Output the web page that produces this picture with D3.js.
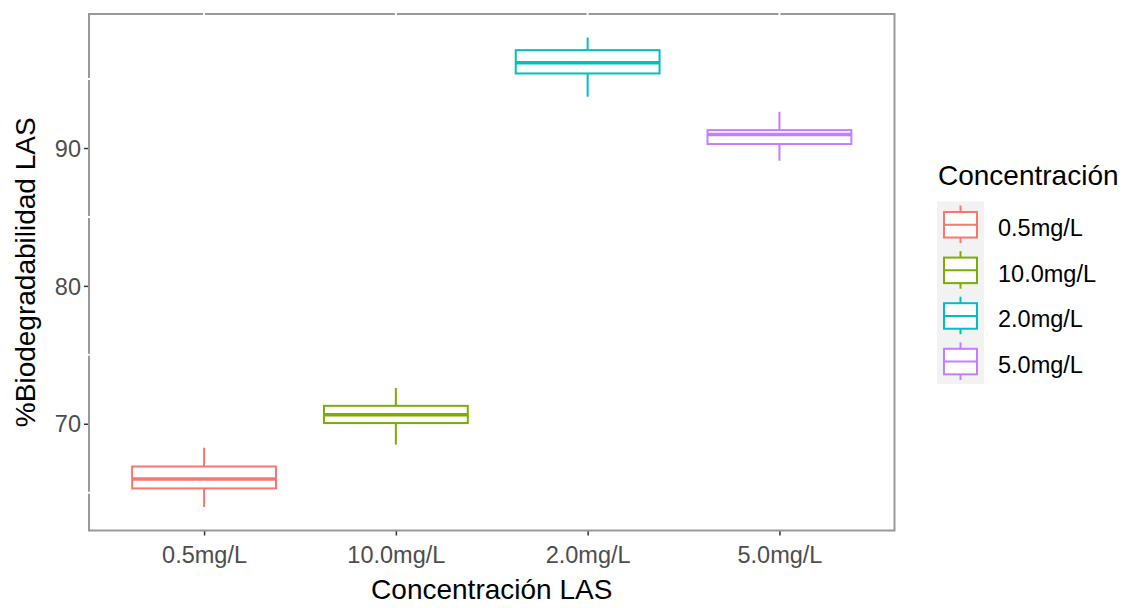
<!DOCTYPE html>
<html><head><meta charset="utf-8">
<script src="https://cdn.jsdelivr.net/npm/d3@7"></script>
<style>body{margin:0;background:#fff}svg{display:block;font-family:"Liberation Sans",Arial,sans-serif}</style>
</head><body><svg id="c" width="1133" height="608"></svg>
<script>
const categories = ["0.5mg/L","10.0mg/L","2.0mg/L","5.0mg/L"];
const colors = ["#F8766D","#7CAE00","#00BFC4","#C77CFF"];
const whiskerLow = [63.96, 68.48, 93.72, 89.08];
const q1 = [65.31, 70.05, 95.41, 90.29];
const median = [66.0, 70.65, 96.18, 90.99];
const q3 = [66.9, 71.30, 97.10, 91.30];
const whiskerHigh = [68.26, 72.59, 98.02, 92.63];
const yTicks = [70, 80, 90];
const yMinor = [65, 75, 85, 95];

const svg = d3.select("#c");
const L = 89, R = 894.5, T = 14, B = 530.5;
const lo = d3.min(whiskerLow), hi = d3.max(whiskerHigh), pad = (hi - lo) * 0.05;
const y = d3.scaleLinear().domain([lo - pad, hi + pad]).range([B, T]);
const x = d3.scalePoint().domain(categories).range([L, R]).padding(0.6);
const bw = x.step() * 0.75;

// axes
const gy = svg.append("g").attr("transform", `translate(${L},0)`)
  .call(d3.axisLeft(y).tickValues(yTicks).tickSize(5).tickPadding(3));
const gx = svg.append("g").attr("transform", `translate(0,${B})`)
  .call(d3.axisBottom(x).tickSize(5).tickPadding(6));
[gy, gx].forEach(g => {
  g.select(".domain").remove();
  g.selectAll(".tick line").attr("stroke", "#333").attr("stroke-width", 1.5);
  g.selectAll(".tick text").attr("fill", "#4D4D4D").style("font-size", "23.5px")
   .style("font-family", '"Liberation Sans",Arial,sans-serif');
});
gy.selectAll(".tick text").attr("dy", "0.35em");
gx.selectAll(".tick text").attr("dy", "0.9em");

// border
svg.append("rect").attr("x", L).attr("y", T).attr("width", R - L).attr("height", B - T)
  .attr("fill", "none").attr("stroke", "#999").attr("stroke-width", 2);
// white grid lines (cut the border)
svg.append("g").selectAll("line").data(categories).join("line")
  .attr("x1", d => x(d)).attr("x2", d => x(d)).attr("y1", T - 2).attr("y2", B - 2)
  .attr("stroke", "#fff").attr("stroke-width", 2);
svg.append("g").selectAll("line").data(yMinor).join("line")
  .attr("y1", d => y(d)).attr("y2", d => y(d)).attr("x1", L - 2).attr("x2", R - 2)
  .attr("stroke", "#fff").attr("stroke-width", 2);

// boxes
const boxes = svg.append("g").selectAll("g").data(categories).join("g");
boxes.append("line").attr("x1", d => x(d)).attr("x2", d => x(d))
  .attr("y1", (d, i) => y(whiskerHigh[i])).attr("y2", (d, i) => y(q3[i]))
  .attr("stroke", (d, i) => colors[i]).attr("stroke-width", 2);
boxes.append("line").attr("x1", d => x(d)).attr("x2", d => x(d))
  .attr("y1", (d, i) => y(q1[i])).attr("y2", (d, i) => y(whiskerLow[i]))
  .attr("stroke", (d, i) => colors[i]).attr("stroke-width", 2);
boxes.append("rect").attr("x", d => x(d) - bw / 2).attr("width", bw)
  .attr("y", (d, i) => y(q3[i])).attr("height", (d, i) => y(q1[i]) - y(q3[i]))
  .attr("fill", "#fff").attr("stroke", (d, i) => colors[i]).attr("stroke-width", 2);
boxes.append("line").attr("x1", d => x(d) - bw / 2).attr("x2", d => x(d) + bw / 2)
  .attr("y1", (d, i) => y(median[i])).attr("y2", (d, i) => y(median[i]))
  .attr("stroke", (d, i) => colors[i]).attr("stroke-width", 3.5);

// axis titles
svg.append("text").attr("x", (L + R) / 2).attr("y", 599).attr("text-anchor", "middle")
  .style("font-size", "28px").attr("fill", "#000").text("Concentración LAS");
svg.append("text").attr("transform", `translate(35,${(T + B) / 2}) rotate(-90)`)
  .attr("text-anchor", "middle").style("font-size", "28px").attr("fill", "#000")
  .text("%Biodegradabilidad LAS");

// legend
const lg = svg.append("g").attr("transform", "translate(937,0)");
lg.append("text").attr("x", 1).attr("y", 185).style("font-size", "28px").attr("fill", "#000").text("Concentración");
const kh = 45.6, k0 = 201.5, kw = 47;
lg.append("rect").attr("x", 0).attr("y", k0).attr("width", kw).attr("height", kh * 4).attr("fill", "#F2F2F2");
const ky = d3.scaleBand().domain(categories).range([k0, k0 + kh * 4]);
const keys = lg.selectAll("g.k").data(categories).join("g").attr("class", "k")
  .attr("transform", d => `translate(0,${ky(d)})`);
keys.append("line").attr("x1", kw / 2).attr("x2", kw / 2).attr("y1", 4).attr("y2", kh - 4)
  .attr("stroke", (d, i) => colors[i]).attr("stroke-width", 2);
keys.append("rect").attr("x", 7).attr("width", kw - 14).attr("y", kh * 0.23).attr("height", kh * 0.56)
  .attr("fill", "#fff").attr("stroke", (d, i) => colors[i]).attr("stroke-width", 2);
keys.append("line").attr("x1", 7).attr("x2", kw - 7).attr("y1", kh * 0.51).attr("y2", kh * 0.51)
  .attr("stroke", (d, i) => colors[i]).attr("stroke-width", 2);
keys.append("text").attr("x", 61).attr("y", kh / 2).attr("dy", "0.5em")
  .style("font-size", "23.5px").attr("fill", "#000").text(d => d);
</script></body></html>
